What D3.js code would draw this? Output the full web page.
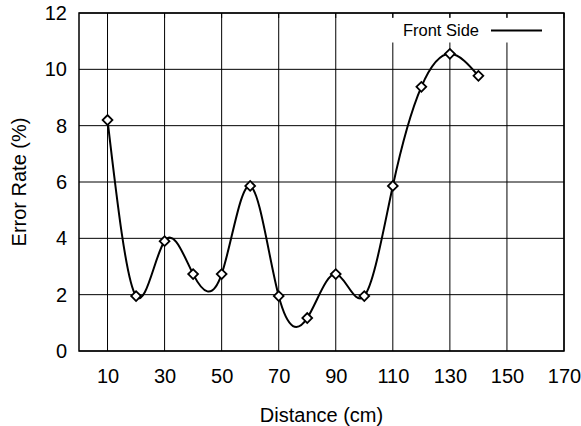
<!DOCTYPE html>
<html><head><meta charset="utf-8">
<script src="https://cdn.jsdelivr.net/npm/d3@7"></script>
<style>body{margin:0;background:#fff}text{font-family:"Liberation Sans",Arial,sans-serif;fill:#000}</style>
</head><body><svg id="c" width="581" height="426"></svg>
<script>
const distances = [10,20,30,40,50,60,70,80,90,100,110,120,130,140];
const errorRates = [8.2,1.95,3.9,2.73,2.73,5.86,1.95,1.17,2.73,1.95,5.86,9.38,10.55,9.77];
const xTicks = [10,30,50,70,90,110,130,150,170];
const yTicks = [0,2,4,6,8,10,12];
const seriesName = "Front Side";

const svg = d3.select("#c");
const L=79,R=564,T=13,B=351;
const x = d3.scaleLinear().domain([0,170]).range([L,R]);
const y = d3.scaleLinear().domain([0,12]).range([B,T]);

const g = svg.append("g");
// grid
g.selectAll(".vg").data(xTicks).enter().append("line")
 .attr("x1",d=>x(d)).attr("x2",d=>x(d)).attr("y1",T).attr("y2",B)
 .attr("stroke","#000").attr("stroke-width",1);
g.selectAll(".hg").data(yTicks).enter().append("line")
 .attr("x1",L).attr("x2",R).attr("y1",d=>y(d)).attr("y2",d=>y(d))
 .attr("stroke","#000").attr("stroke-width",1);

// legend box (opaque)
g.append("rect").attr("x",388).attr("y",17.5).attr("width",160).attr("height",25).attr("fill","#fff");
// mirror ticks on top
g.selectAll(".tt").data(xTicks).enter().append("line")
 .attr("x1",d=>x(d)).attr("x2",d=>x(d)).attr("y1",T).attr("y2",T+5)
 .attr("stroke","#000").attr("stroke-width",1);

// border
g.append("rect").attr("x",L).attr("y",T).attr("width",R-L).attr("height",B-T)
 .attr("fill","none").attr("stroke","#000").attr("stroke-width",1.5);

// axes labels
const FS = "20px";
const xAxis = d3.axisBottom(x).tickValues(xTicks).tickSize(0).tickPadding(18);
const xa = svg.append("g").attr("transform",`translate(0,${B})`).call(xAxis);
xa.select(".domain").remove();
xa.selectAll("text").style("font-size",FS).style("font-family","'Liberation Sans',Arial,sans-serif").attr("fill","#000");
const yAxis = d3.axisLeft(y).tickValues(yTicks).tickSize(0).tickPadding(12);
const ya = svg.append("g").attr("transform",`translate(${L},0)`).call(yAxis);
ya.select(".domain").remove();
ya.selectAll("text").style("font-size",FS).style("font-family","'Liberation Sans',Arial,sans-serif").attr("fill","#000");

svg.append("text").attr("x",(L+R)/2).attr("y",422).attr("text-anchor","middle")
 .style("font-size",FS).text("Distance (cm)");
svg.append("text").attr("transform",`translate(26,${(T+B)/2}) rotate(-90)`).attr("text-anchor","middle")
 .style("font-size",FS).text("Error Rate (%)");

// curve
const pts = distances.map((d,i)=>[d,errorRates[i]]);
const line = d3.line().x(d=>x(d[0])).y(d=>y(d[1])).curve(d3.curveNatural);
svg.append("path").attr("d",line(pts)).attr("fill","none").attr("stroke","#000").attr("stroke-width",2);

// markers
const sym = d3.symbol().type(d3.symbolSquare).size(48);
svg.selectAll(".m").data(pts).enter().append("path")
 .attr("d",sym).attr("transform",d=>`translate(${x(d[0])},${y(d[1])}) rotate(45)`)
 .attr("fill","#fff").attr("stroke","#000").attr("stroke-width",1.8);

// legend
svg.append("text").attr("x",479).attr("y",36).attr("text-anchor","end")
 .style("font-size","16.5px").text(seriesName);
svg.append("line").attr("x1",491).attr("x2",542).attr("y1",30.5).attr("y2",30.5)
 .attr("stroke","#000").attr("stroke-width",2);
</script></body></html>
